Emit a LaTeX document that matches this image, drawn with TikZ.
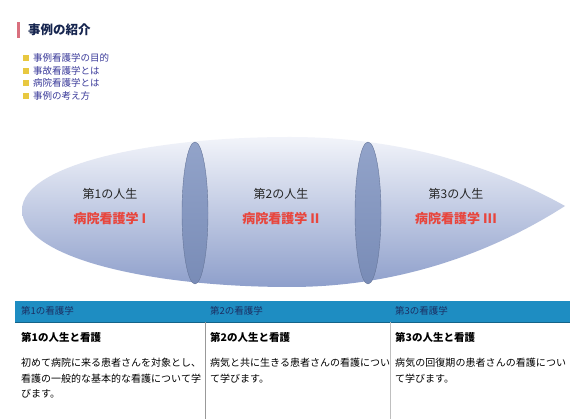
\documentclass[tikz,border=0pt]{standalone}
\usepackage{fontspec}
\newfontfamily\jp{Noto Sans CJK JP}
\XeTeXlinebreaklocale "ja"
\XeTeXlinebreakskip=0pt plus 1pt
\usetikzlibrary{shapes.geometric}
\definecolor{hdr}{HTML}{1E8DC2}
\definecolor{hdrtxt}{HTML}{1B2F63}
\definecolor{lenstop}{HTML}{F2F4FA}
\definecolor{lensbot}{HTML}{8E9FCB}
\definecolor{barcol}{HTML}{D9707E}
\definecolor{sq}{HTML}{E8C840}
\definecolor{legtxt}{HTML}{3A3A9A}
\definecolor{redtxt}{HTML}{E8453C}
\definecolor{sepcol}{HTML}{7F93C0}
\tikzset{
  legitem/.style={anchor=west,font=\jp\fontsize{9.5}{11}\selectfont,text=legtxt,inner sep=0pt},
  legsq/.style={fill=sq,minimum size=5.5pt,inner sep=0pt},
  lifetxt/.style={font=\jp\fontsize{12}{14}\selectfont,text=black!85},
  redlbl/.style={font=\jp\bfseries\fontsize{13}{15}\selectfont,text=redtxt},
  hdrlbl/.style={anchor=west,font=\jp\fontsize{9.5}{11}\selectfont,text=hdrtxt,inner sep=0pt},
  rowlbl/.style={anchor=west,font=\jp\bfseries\fontsize{10.5}{12}\selectfont,inner sep=0pt},
  desc/.style={anchor=north west,font=\jp\fontsize{10}{15.5}\selectfont,align=left,text width=180pt,inner sep=0pt},
  sepell/.style={ellipse,minimum width=26pt,minimum height=142pt,inner sep=0pt,draw=sepcol!80!black,line width=0.4pt,top color=sepcol!85,bottom color=sepcol!95!black}
}
\begin{document}
\begin{tikzpicture}[x=1pt,y=-1pt]
\useasboundingbox (0,0) rectangle (570,419);
\fill[white] (0,0) rectangle (570,419);
% title
\fill[barcol] (17,22) rectangle (20,38);
\node[anchor=west,font=\jp\bfseries\fontsize{12.5}{14}\selectfont,text=hdrtxt!80!black,inner sep=0pt] (title) at (28,30) {事例の紹介};
% legend
\foreach \i/\t/\y in {1/事例看護学の目的/58,2/事故看護学とは/71,3/病院看護学とは/83,4/事例の考え方/96}{
  \node[legsq] (sq\i) at (26,\y) {};
  \node[legitem] (leg\i) at (33,\y) {\t};
}
% lens
\shade[top color=lenstop,bottom color=lensbot]
  (22,210) .. controls (22,165) and (150,137) .. (290,137)
  .. controls (420,137) and (515,178) .. (565,206)
  .. controls (515,238) and (420,287) .. (290,287)
  .. controls (150,287) and (22,258) .. (22,210) -- cycle;
\node[sepell] (s1) at (195,213) {};
\node[sepell] (s2) at (368,213) {};
\node[lifetxt] (l1) at (110,194) {第1の人生};
\node[redlbl] (r1) at (110,219) {病院看護学 I};
\node[lifetxt] (l2) at (281,194) {第2の人生};
\node[redlbl] (r2) at (281,219) {病院看護学 II};
\node[lifetxt] (l3) at (456,194) {第3の人生};
\node[redlbl] (r3) at (456,219) {病院看護学 III};
% table
\fill[hdr] (15,301) rectangle (570,322);
\draw[hdr!70!black,line width=0.8pt] (15,322) -- (570,322);
\draw[gray!80,line width=0.8pt] (205,322) -- (205,419);
\draw[gray!50,line width=0.6pt] (390,322) -- (390,419);
\node[hdrlbl] (h1) at (21,311) {第1の看護学};
\node[hdrlbl] (h2) at (210,311) {第2の看護学};
\node[hdrlbl] (h3) at (395,311) {第3の看護学};
\node[rowlbl] (b1) at (21,337) {第1の人生と看護};
\node[rowlbl] (b2) at (210,337) {第2の人生と看護};
\node[rowlbl] (b3) at (395,337) {第3の人生と看護};
\node[desc] (d1) at (21,358) {初めて病院に来る患者さんを対象とし、看護の一般的な基本的な看護について学びます。};
\node[desc] (d2) at (210,358) {病気と共に生きる患者さんの看護について学びます。};
\node[desc,text width=172pt] (d3) at (395,358) {病気の回復期の患者さんの看護について学びます。};
\end{tikzpicture}
\end{document}
